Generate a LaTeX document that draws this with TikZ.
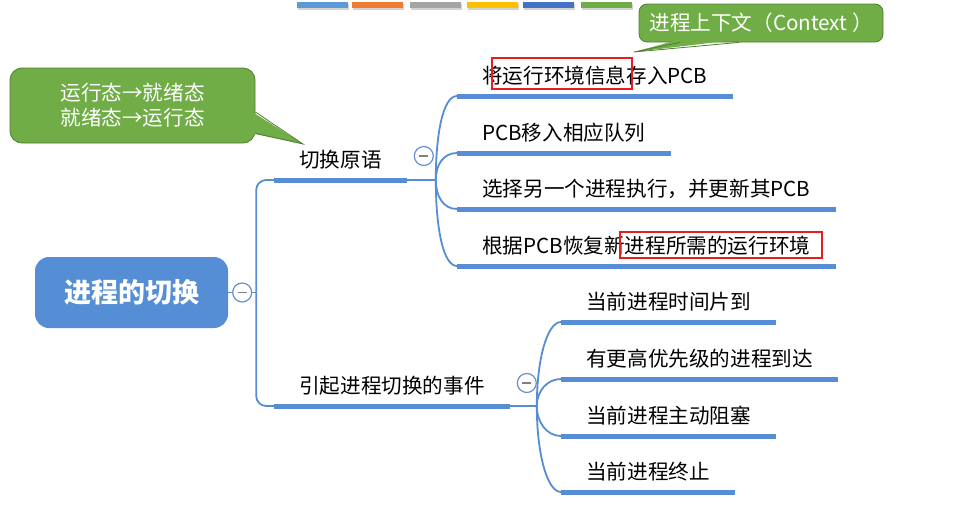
\documentclass[tikz,border=0pt]{standalone}
\usepackage{fontspec}
\setmainfont{Noto Sans CJK SC}
\usetikzlibrary{positioning,calc,shadows}
\definecolor{lineblue}{RGB}{86,141,212}
\definecolor{rootblue}{RGB}{85,142,213}
\definecolor{foldblue}{RGB}{104,143,204}
\definecolor{notegreen}{RGB}{112,173,71}
\definecolor{noteedge}{RGB}{80,126,50}
\definecolor{markred}{RGB}{230,30,30}
\definecolor{tabblue}{RGB}{91,155,213}
\definecolor{taborange}{RGB}{237,125,49}
\definecolor{tabgray}{RGB}{165,165,165}
\definecolor{tabyellow}{RGB}{255,192,0}
\definecolor{tabnavy}{RGB}{68,114,196}
\definecolor{tabgreen}{RGB}{112,173,71}

\begin{document}
\begin{tikzpicture}[x=1pt,y=-1pt,
		bar/.style={draw=lineblue,line width=5pt},
		link/.style={draw=lineblue,line width=1.8pt},
		topic/.style={anchor=south west,font=\fontsize{20.6}{24}\selectfont,inner xsep=25pt,inner ysep=8pt,
			text height=16pt,text depth=4pt,
			append after command={(\tikzlastnode.south west) edge[bar] (\tikzlastnode.south east)}},
		branch/.style={to path={.. controls ($(\tikztostart)!0.55!(\tikztostart|-\tikztotarget)$)
			and ($(\tikztotarget)+(-14,0)$) .. (\tikztotarget)}},
		trunkline/.style={rounded corners=10pt,to path={|- (\tikztotarget)}},
		fold/.style={circle,draw=foldblue,line width=1.2pt,fill=white,minimum size=19pt,inner sep=0pt,
			path picture={\draw[gray,line width=1.6pt] ([xshift=-4.5pt]path picture bounding box.center)
				-- ([xshift=4.5pt]path picture bounding box.center);}},
		note/.style={fill=notegreen,draw=noteedge,line width=0.8pt,text=white,
			font=\fontsize{20.6}{25}\selectfont,align=center,inner sep=0pt},
		redmark/.style={draw=markred,line width=1.2pt}]
	\fill[white] (0,0) rectangle (960,504);
	\useasboundingbox (0,0) rectangle (960,504);
	% colour tabs at the top
	\foreach \x/\c in {297/tabblue,352/taborange,410/tabgray,467/tabyellow,523/tabnavy,581/tabgreen}
		\fill[\c,drop shadow={shadow xshift=0.5pt,shadow yshift=-2pt,opacity=0.35}] (\x,2) rectangle ++(51,6);
	% root and topics
	\node[fill=rootblue,rounded corners=14pt,minimum width=193pt,minimum height=71pt,text=white,
		font=\fontsize{27}{30}\selectfont\bfseries] (root) at (131.5,292.5) {进程的切换};
	\node[topic] (s1) at (274,180) {切换原语};
	\node[topic] (s2) at (274,406) {引起进程切换的事件};
	\node[topic] (a1) at (457,96) {将运行环境信息存入PCB};
	\node[topic] (a2) at (457,153) {PCB移入相应队列};
	\node[topic] (a3) at (457,209) {选择另一个进程执行，并更新其PCB};
	\node[topic] (a4) at (457,266) {根据PCB恢复新进程所需的运行环境};
	\node[topic] (b1) at (561,322) {当前进程时间片到};
	\node[topic] (b2) at (561,379) {有更高优先级的进程到达};
	\node[topic] (b3) at (561,436) {当前进程主动阻塞};
	\node[topic] (b4) at (561,492) {当前进程终止};
	\coordinate[right=28pt of root.east] (trunk);
	\coordinate[right=29pt of s1.south east] (br1);
	\coordinate[right=27pt of s2.south east] (br2);
	\path[link]
		(root.east) edge (trunk)
		(trunk) edge[trunkline] (s1.south west)
		(trunk) edge[trunkline] (s2.south west)
		(s1.south east) edge (br1)
		(s2.south east) edge (br2);
	\path[link]
		(br1) edge[branch] (a1.south west) edge[branch] (a2.south west)
			edge[branch] (a3.south west) edge[branch] (a4.south west)
		(br2) edge[branch] (b1.south west) edge[branch] (b2.south west)
			edge[branch] (b3.south west) edge[branch] (b4.south west);
	\node[fold] (f0) at ([xshift=14pt]root.east) {};
	\node[fold] (f1) at ([xshift=17pt,yshift=24pt]s1.south east) {};
	\node[fold] (f2) at ([xshift=17pt,yshift=23pt]s2.south east) {};
	% red marks
	\draw[redmark] (492,58) rectangle (632,89);
	\draw[redmark] (620,232) rectangle (822,258);
	% notes
	\node[note,rounded corners=12pt,minimum width=245pt,minimum height=75pt] (n1) at (132.5,105.5)
		{运行态→就绪态\\就绪态→运行态};
	\coordinate (n1tip) at (303,144);
	\fill[notegreen] ([xshift=-3pt,yshift=-6.5pt]n1.east) -- (n1tip) -- ([xshift=-3pt,yshift=10pt]n1.south east) -- cycle;
	\draw[noteedge,line width=0.8pt] ([yshift=-6.5pt]n1.east) -- (n1tip) -- ([yshift=10pt]n1.south east);
	\node[note,rounded corners=8pt,minimum width=244pt,minimum height=38pt] (n2) at (761,23)
		{进程上下文（Context ）};
	\coordinate (n2tip) at (634,52);
	\fill[notegreen] ([xshift=-81pt,yshift=3pt]n2.south) -- (n2tip) -- ([xshift=-22pt,yshift=3pt]n2.south) -- cycle;
	\draw[noteedge,line width=0.8pt] ([xshift=-81pt]n2.south) -- (n2tip) -- ([xshift=-22pt]n2.south);
\end{tikzpicture}
\end{document}
